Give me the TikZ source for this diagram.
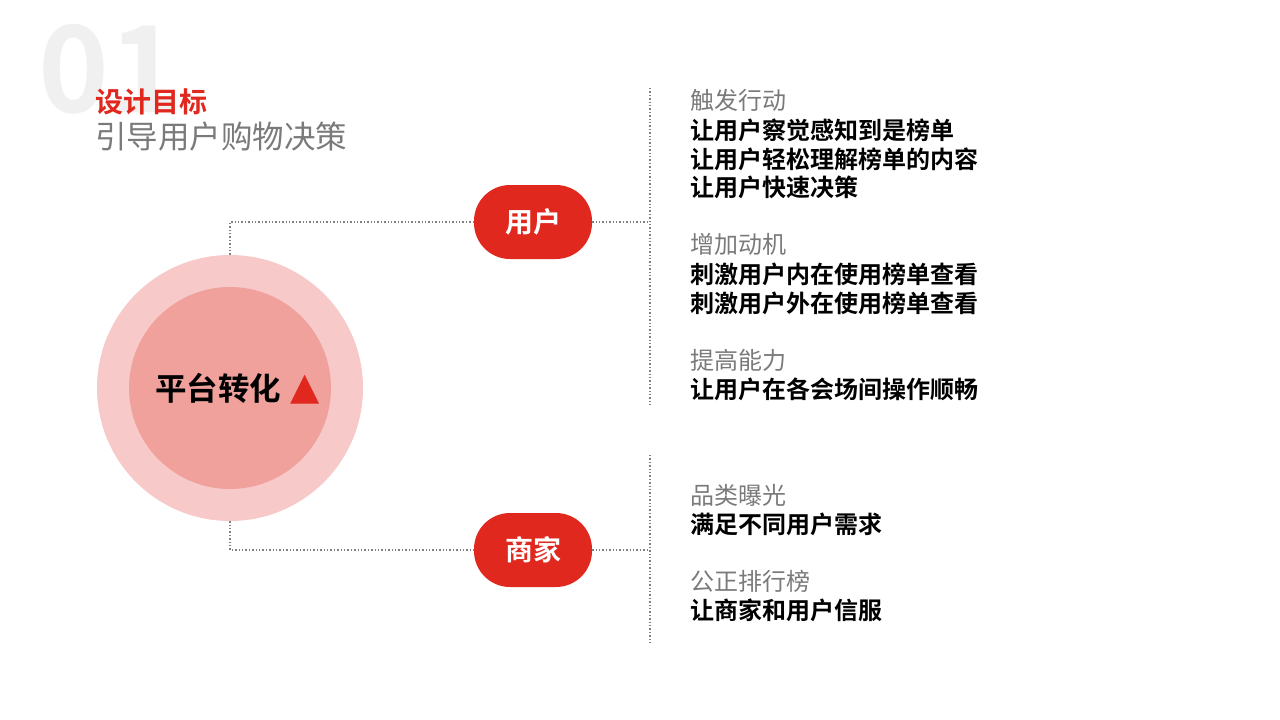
\documentclass[tikz,border=0pt]{standalone}
\usepackage{fontspec}
\setmainfont{Noto Sans CJK SC}[BoldFont={Noto Sans CJK SC Bold}]
\newfontfamily\dejavu{DejaVu Sans}
\definecolor{myred}{HTML}{E0281E}
\definecolor{outerc}{HTML}{F8C9C9}
\definecolor{innerc}{HTML}{F0A19C}
\definecolor{txtgray}{HTML}{7A7A7A}
\definecolor{bggray}{HTML}{F0F0F0}
\tikzset{
  dots/.style={draw=gray, line width=1.4pt, dotted},
  pill/.style={fill=myred, rounded corners=36pt, minimum width=118pt, minimum height=74pt, text=white, font=\bfseries\fontsize{28}{30}\selectfont, inner sep=0pt},
  head/.style={anchor=base west, text=txtgray, font=\fontsize{24}{26}\selectfont, inner sep=0pt},
  item/.style={anchor=base west, text=black, font=\bfseries\fontsize{24}{26}\selectfont, inner sep=0pt},
}
\begin{document}
\begin{tikzpicture}[x=1pt,y=-1pt]
\useasboundingbox (0,0) rectangle (1280,720);
\node[anchor=base west, inner sep=0pt, text=bggray, font=\bfseries\fontsize{120}{120}\selectfont] (num) at (38,112) {01};
\node[anchor=base west, inner sep=0pt, text=myred, font=\bfseries\fontsize{28}{30}\selectfont] (t1) at (95,112) {设计目标};
\node[anchor=base west, inner sep=0pt, text=txtgray, font=\fontsize{31.5}{34}\selectfont] (t2) at (95,148) {引导用户购物决策};
\node[circle, fill=outerc, minimum size=266pt] (outer) at (230,388) {};
\node[circle, fill=innerc, minimum size=202pt] (inner) at (230,388) {};
\node[font=\bfseries\fontsize{31.5}{34}\selectfont, inner sep=0pt] (core) at (218,388) {平台转化};
\node[text=myred, font=\dejavu\fontsize{38}{40}\selectfont, inner sep=0pt] (tri) at (305,390) {▲};
\node[pill] (user) at (533,222) {用户};
\node[pill] (shop) at (533,550) {商家};
\coordinate (vt1) at (650,88); \coordinate (vb1) at (650,405);
\coordinate (vt2) at (650,455); \coordinate (vb2) at (650,645);
\draw[dots] (vt1) -- (vb1);
\draw[dots] (vt2) -- (vb2);
\draw[dots] (outer.north) -- (outer.north |- user) -- (user.west);
\draw[dots] (user.east) -- (user -| vt1);
\draw[dots] (outer.south) -- (outer.south |- shop) -- (shop.west);
\draw[dots] (shop.east) -- (shop -| vt1);
\node[head] (h1) at (690,109) {触发行动};
\node[item] (a1) at (690,139) {让用户察觉感知到是榜单};
\node[item] (a2) at (690,168) {让用户轻松理解榜单的内容};
\node[item] (a3) at (690,196) {让用户快速决策};
\node[head] (h2) at (690,253) {增加动机};
\node[item] (b1) at (690,283) {刺激用户内在使用榜单查看};
\node[item] (b2) at (690,312) {刺激用户外在使用榜单查看};
\node[head] (h3) at (690,369) {提高能力};
\node[item] (c1) at (690,398) {让用户在各会场间操作顺畅};
\node[head] (h4) at (690,504) {品类曝光};
\node[item] (d1) at (690,533) {满足不同用户需求};
\node[head] (h5) at (690,590) {公正排行榜};
\node[item] (e1) at (690,619) {让商家和用户信服};
\end{tikzpicture}
\end{document}
